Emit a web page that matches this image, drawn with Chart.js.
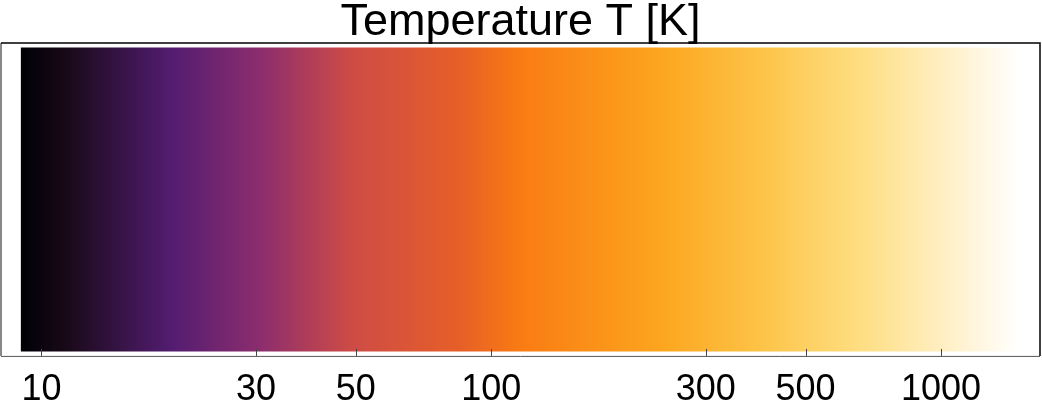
<!DOCTYPE html>
<html>
<head>
<title>Temperature T [K]</title>
<style>
  html, body { margin: 0; padding: 0; background: #ffffff; }
  #wrap { width: 1042px; height: 402px; }
</style>
</head>
<body>
<div id="wrap">
  <canvas id="myChart"></canvas>
</div>
<script src="https://cdn.jsdelivr.net/npm/chart.js"></script>
<script>
// colour bar range and tick labels (temperature, log scale)
const axisMin = 8.13;
const axisMax = 1660;
const barRange = [9.0, 1490];
const tickValues = [10, 30, 50, 100, 300, 500, 1000];

// colour stops: temperature -> colour
const stopTemps = [9.0, 11.5, 19.3, 30.6, 48.5, 85, 116, 237, 395, 660, 1045, 1490];
const stopColors = ['#000004', '#1a0a1a', '#521c70', '#8c2d6e', '#cd4b46', '#e65f28', '#f97b13', '#fca51e', '#fdc346', '#fede82', '#fff0c8', '#ffffff'];

function barGradient(context) {
  const chart = context.chart;
  const x = chart.scales.x;
  if (!chart.chartArea || !x) return stopColors[5];
  const p0 = x.getPixelForValue(barRange[0]);
  const p1 = x.getPixelForValue(barRange[1]);
  const g = chart.ctx.createLinearGradient(p0, 0, p1, 0);
  stopTemps.forEach((t, i) => {
    let f = (x.getPixelForValue(t) - p0) / (p1 - p0);
    f = Math.min(1, Math.max(0, f));
    g.addColorStop(f, stopColors[i]);
  });
  return g;
}

// frame + inward tick marks
const framePlugin = {
  id: 'frame',
  afterDatasetsDraw(chart) {
    const a = chart.chartArea;
    const c = chart.ctx;
    const x = chart.scales.x;
    c.save();
    c.lineWidth = 1;
    c.strokeStyle = '#444';
    tickValues.forEach(v => {
      const px = Math.round(x.getPixelForValue(v)) + 0.5;
      c.beginPath();
      c.moveTo(px, a.bottom);
      c.lineTo(px, a.bottom - 7);
      c.stroke();
    });
    // bottom
    c.strokeStyle = '#555';
    c.beginPath();
    c.moveTo(a.left, a.bottom + 0.5);
    c.lineTo(a.right, a.bottom + 0.5);
    c.stroke();
    // left
    c.strokeStyle = '#888';
    c.lineWidth = 2;
    c.beginPath();
    c.moveTo(a.left, a.top);
    c.lineTo(a.left, a.bottom);
    c.stroke();
    // top and right
    c.strokeStyle = '#000';
    c.lineWidth = 1.5;
    c.beginPath();
    c.moveTo(a.left, a.top);
    c.lineTo(a.right, a.top);
    c.lineTo(a.right, a.bottom);
    c.stroke();
    c.restore();
  }
};

const config = {
  type: 'bar',
  data: {
    labels: ['T'],
    datasets: [{
      data: [barRange],
      backgroundColor: barGradient,
      borderWidth: 0,
      barPercentage: 0.971,
      categoryPercentage: 1
    }]
  },
  options: {
    indexAxis: 'y',
    responsive: true,
    maintainAspectRatio: false,
    animation: false,
    events: [],
    layout: { padding: { left: 1, right: 2, top: 0, bottom: -23 } },
    plugins: {
      legend: { display: false },
      tooltip: { enabled: false },
      title: {
        display: true,
        text: 'Temperature T [K]',
        color: '#000',
        font: { family: 'Liberation Sans', size: 45, weight: 'normal', lineHeight: 1 },
        padding: { top: 0, bottom: -2 }
      }
    },
    scales: {
      x: {
        type: 'logarithmic',
        min: axisMin,
        max: axisMax,
        afterBuildTicks: (scale) => {
          scale.ticks = tickValues.map(v => ({ value: v }));
        },
        grid: { display: false, drawTicks: false },
        border: { display: false },
        ticks: {
          autoSkip: false,
          maxRotation: 0,
          padding: 16,
          color: '#000',
          font: { family: 'Liberation Sans', size: 36, lineHeight: 1.03 },
          callback: (v) => String(v)
        }
      },
      y: {
        display: false
      }
    }
  },
  plugins: [framePlugin]
};

new Chart(document.getElementById('myChart'), config);
</script>
</body>
</html>
